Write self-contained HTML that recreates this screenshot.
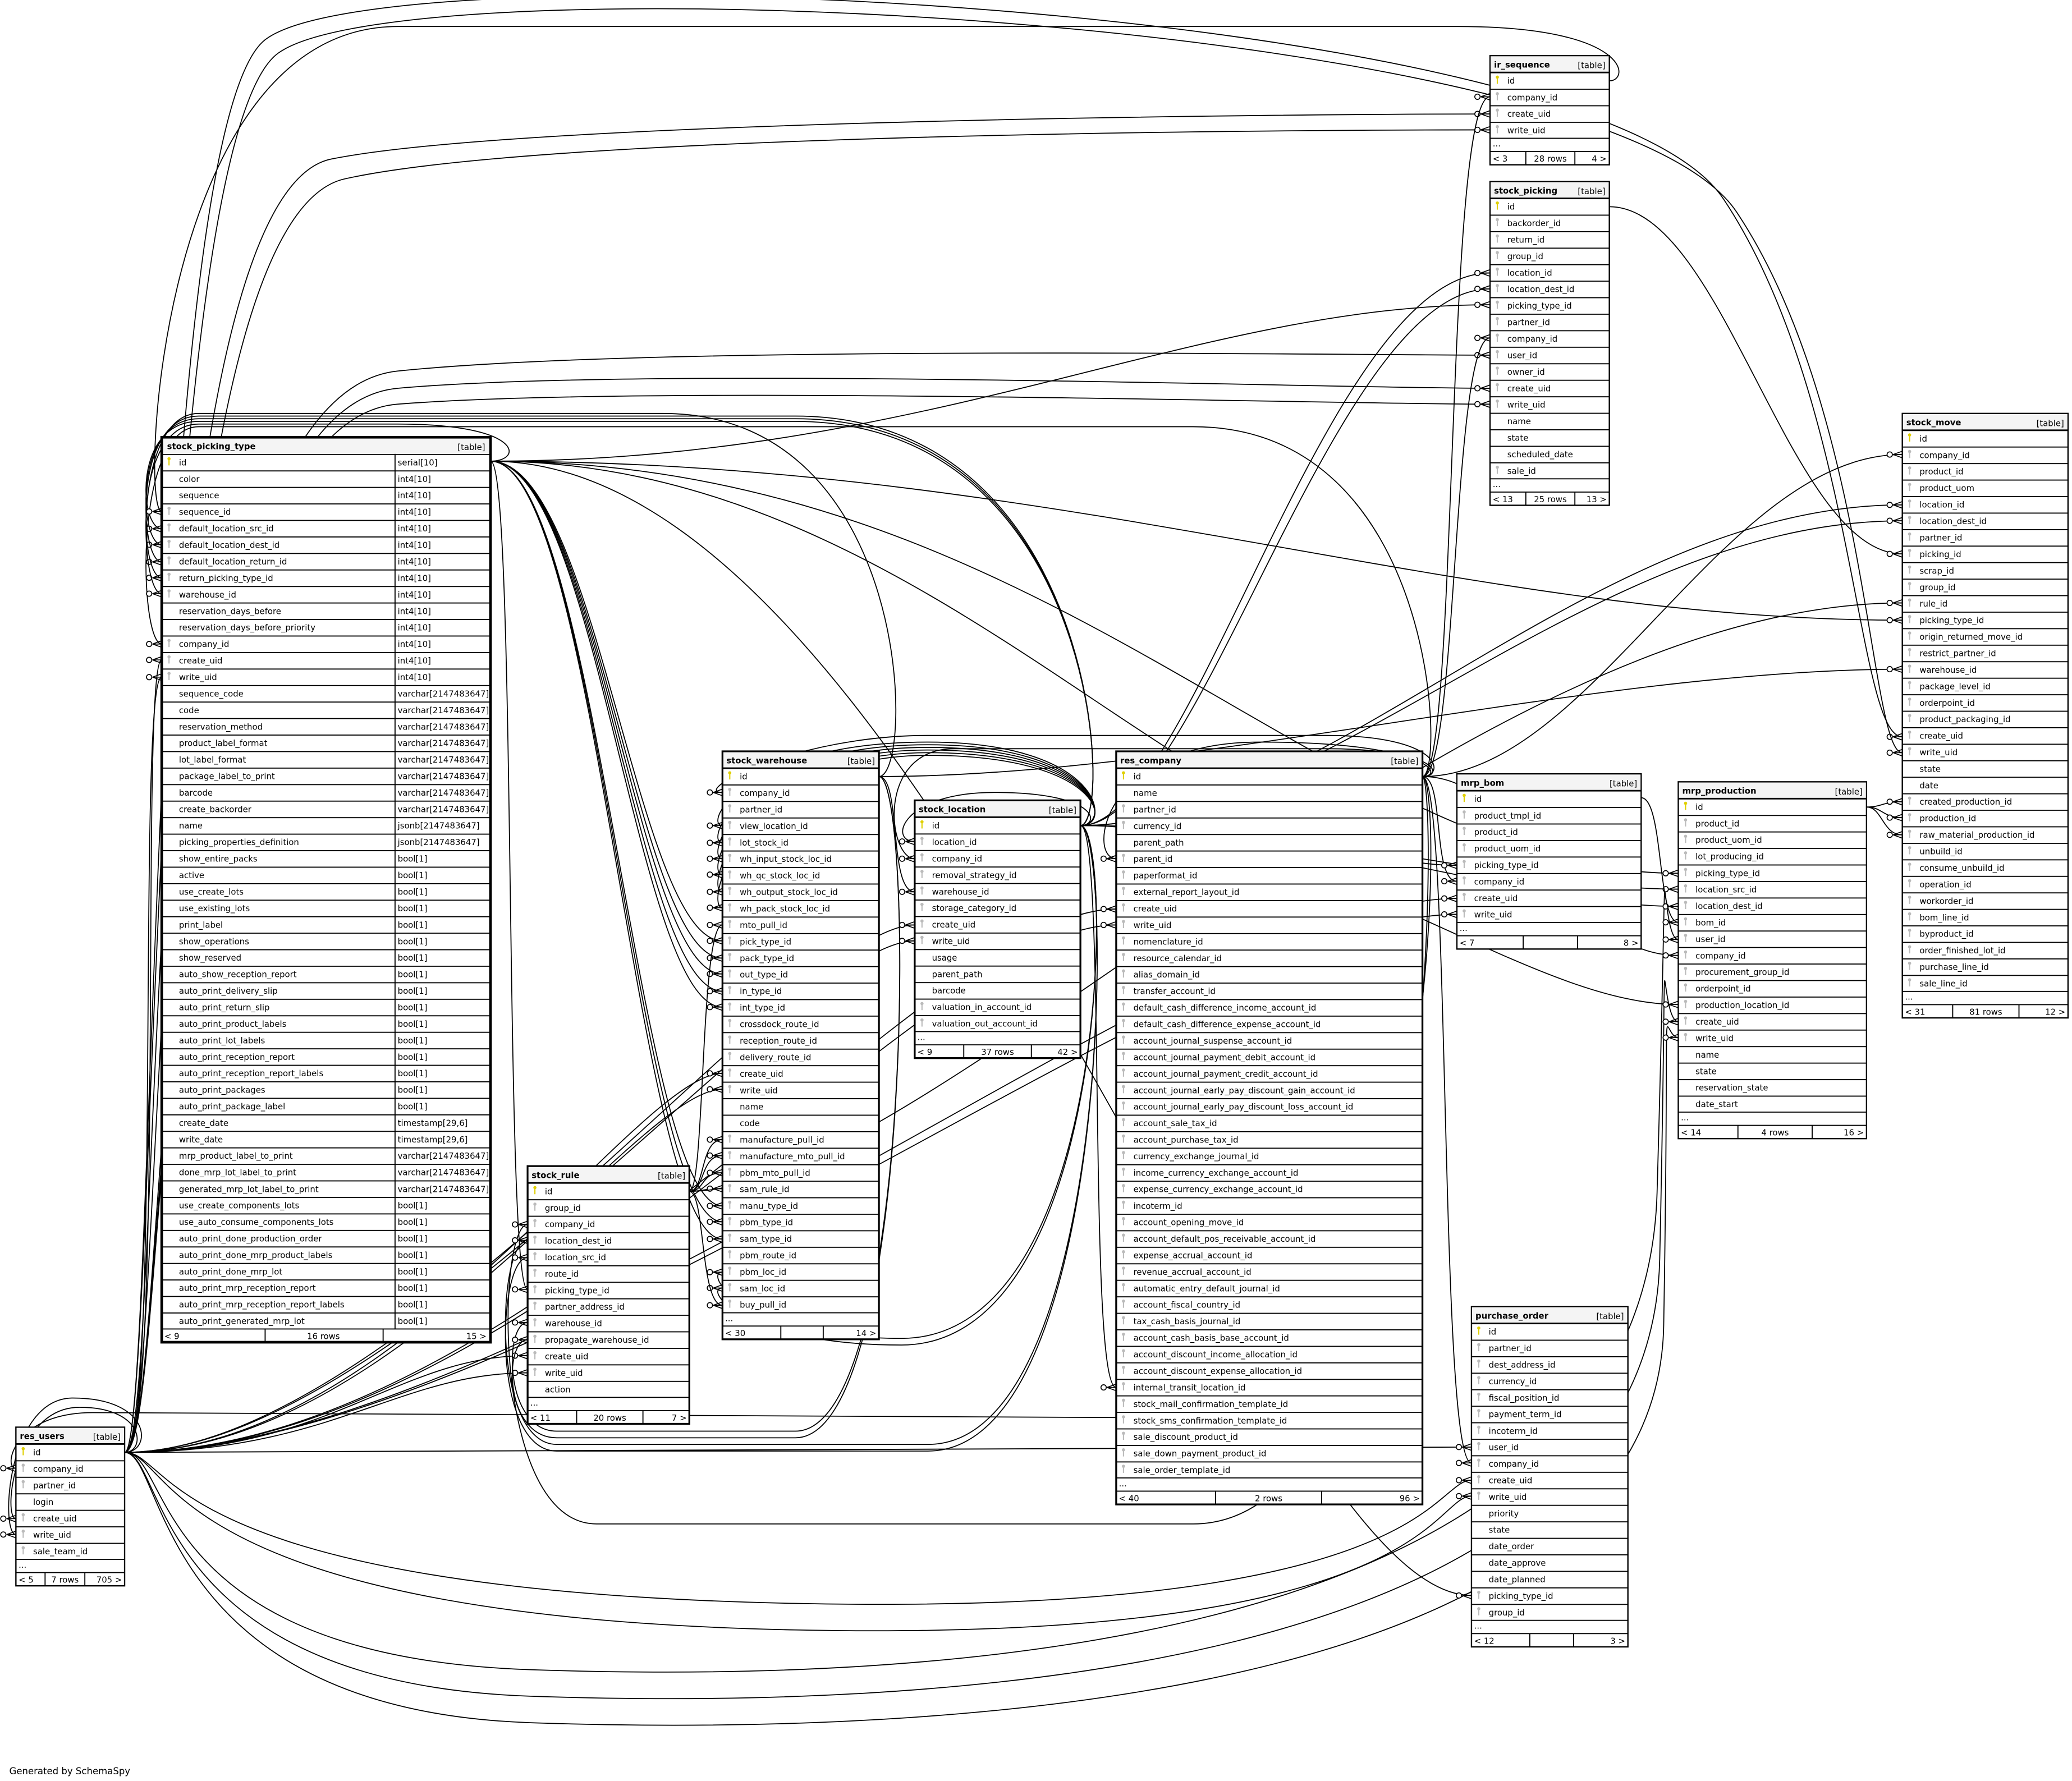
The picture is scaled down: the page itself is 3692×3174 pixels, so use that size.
<!DOCTYPE html>
<html><head><meta charset="utf-8"><style>
html,body{margin:0;padding:0;background:#fff}
svg{display:block}
text{font-family:"DejaVu Sans","Liberation Sans",sans-serif;font-size:6.3px;fill:#000}
.b{font-weight:bold}
.t{fill:#fff;stroke:#000;stroke-width:1}
.e{fill:none;stroke:#000;stroke-width:0.75}
.l{stroke:#000;stroke-width:0.8}
</style></head><body>
<svg width="3692" height="3174" viewBox="0 0 1563 1344" preserveAspectRatio="none" xmlns="http://www.w3.org/2000/svg">
<defs>
<pattern id="rl" patternUnits="userSpaceOnUse" width="2000" height="12.46" y="12.5"><line x1="0" y1="0.4" x2="2000" y2="0.4" stroke="#000" stroke-width="0.8"/></pattern>
<symbol id="y" overflow="visible"><circle cx="1.5" cy="1.5" r="1.2" fill="#e0d000"/><line x1="1.5" y1="2" x2="1.5" y2="6.5" stroke="#e0d000" stroke-width="0.9"/></symbol>
<symbol id="g" overflow="visible"><circle cx="1.5" cy="1.5" r="1.2" fill="#bbb"/><line x1="1.5" y1="2" x2="1.5" y2="6.5" stroke="#bbb" stroke-width="0.9"/></symbol>
<marker id="m" markerUnits="userSpaceOnUse" markerWidth="14" markerHeight="8" refX="12" refY="4" orient="auto" overflow="visible"><circle cx="2.5" cy="4" r="2" fill="#fff" stroke="#000" stroke-width="0.7"/><path d="M5 4 L12 1.5 M5 4 L12 4 M5 4 L12 6.5" stroke="#000" stroke-width="0.7" fill="none"/></marker>
</defs>

<!-- EDGES -->
<g class="e" marker-end="url(#m)">
<path d="M94,1096 C125,1096 105,498 122,498"/>
<path d="M94,1096 C122,1096 103,511 122,511"/>
<path d="M94,1096 C125,1096 100,150 250,120 S1000,86 1124,86"/>
<path d="M94,1096 C128,1096 104,170 260,135 S1000,98 1124,98"/>
<path d="M94,1096 C130,1096 105,300 300,280 S1000,268 1124,268"/>
<path d="M94,1096 C130,1096 108,310 300,293 S1000,293 1124,293"/>
<path d="M94,1096 C130,1096 110,320 300,305 S1000,305 1124,305"/>
<path d="M94,1096 C118,1096 110,100 200,30 S1200,0 1300,150 S1400,556 1435,556"/>
<path d="M94,1096 C118,1096 112,110 210,40 S1210,10 1310,160 S1410,568 1435,568"/>
<path d="M94,1096 C300,1096 480,810 545,810"/>
<path d="M94,1096 C300,1096 480,822 545,822"/>
<path d="M94,1096 C300,1096 600,698 690,698"/>
<path d="M94,1096 C300,1096 600,710 690,710"/>
<path d="M94,1096 C400,1096 700,686 842,686"/>
<path d="M94,1096 C400,1096 700,698 842,698"/>
<path d="M94,1096 C400,1096 900,678 1099,678"/>
<path d="M94,1096 C400,1096 900,690 1099,690"/>
<path d="M94,1096 C130,1096 110,1250 400,1260 S1240,1250 1250,900 S1250,709 1266,709"/>
<path d="M94,1096 C125,1096 112,1270 400,1280 S1245,1270 1252,950 S1250,771 1266,771"/>
<path d="M94,1096 C125,1096 115,1290 400,1300 S1250,1290 1255,1000 S1252,783 1266,783"/>
<path d="M94,1096 C250,1096 300,1023 398,1023"/>
<path d="M94,1096 C250,1096 300,1036 398,1036"/>
<path d="M94,1096 C500,1096 900,1092 1110,1092"/>
<path d="M94,1096 C130,1096 120,1200 600,1210 S1080,1117 1110,1117"/>
<path d="M94,1096 C130,1096 120,1220 600,1230 S1080,1129 1110,1129"/>
<path d="M94,1096 C110,1096 110,1062 60,1062 C10,1062 2,1146 12,1146"/>
<path d="M94,1096 C115,1096 115,1055 55,1055 C5,1055 0,1158 12,1158"/>
<path d="M1073,586 C1100,586 1090,73 1124,73"/>
<path d="M1073,586 C1100,586 1095,255 1124,255"/>
<path d="M1073,586 C1200,586 1300,343 1435,343"/>
<path d="M1073,586 C1090,586 1080,665 1099,665"/>
<path d="M1073,586 C1150,586 1180,721 1266,721"/>
<path d="M1073,586 C1095,586 1085,1104 1110,1104"/>
<path d="M1073,586 C1090,586 1090,555 1000,555 L700,555 C600,555 520,598 545,598"/>
<path d="M1073,586 C1090,586 1085,565 1000,565 L720,565 C660,565 670,648 690,648"/>
<path d="M1073,586 C1085,586 1085,1150 900,1150 L450,1150 C370,1150 375,924 398,924"/>
<path d="M1073,586 C1090,586 1085,322 900,322 L150,322 C100,322 105,486 122,486"/>
<path d="M1073,586 C1090,586 1085,1070 900,1070 L70,1066 C10,1066 2,1108 12,1108"/>
<path d="M1073,586 C1090,586 1080,560 950,560 C830,560 820,648 842,648"/>
<path d="M815,623 C900,623 1000,206 1124,206"/>
<path d="M815,623 C905,623 1005,218 1124,218"/>
<path d="M815,623 C1000,623 1200,381 1435,381"/>
<path d="M815,623 C1000,623 1200,393 1435,393"/>
<path d="M815,623 C1000,623 1150,671 1266,671"/>
<path d="M815,623 C1000,623 1150,684 1266,684"/>
<path d="M815,623 C1000,623 1150,758 1266,758"/>
<path d="M815,623 C835,623 820,1047 842,1047"/>
<path d="M815,623 C830,623 830,598 750,598 C680,598 670,635 690,635"/>
<path d="M815,623 C840,623 830,560 700,560 C560,560 530,623 545,623"/>
<path d="M815,623 C840,623 830,562 700,562 C560,562 530,636 545,636"/>
<path d="M815,623 C840,623 830,564 700,564 C560,564 530,648 545,648"/>
<path d="M815,623 C840,623 830,566 700,566 C560,566 530,660 545,660"/>
<path d="M815,623 C840,623 830,568 700,568 C560,568 530,673 545,673"/>
<path d="M815,623 C840,623 830,570 700,570 C560,570 530,685 545,685"/>
<path d="M815,623 C840,623 840,1010 680,1010 C560,1010 530,960 545,960"/>
<path d="M815,623 C840,623 840,1015 680,1015 C560,1015 530,972 545,972"/>
<path d="M815,623 C840,623 830,318 600,318 L150,318 C100,318 105,399 122,399"/>
<path d="M815,623 C840,623 830,316 600,316 L150,316 C100,316 105,411 122,411"/>
<path d="M815,623 C840,623 830,314 600,314 L150,314 C100,314 105,424 122,424"/>
<path d="M815,623 C840,623 840,1090 700,1090 L420,1090 C370,1090 375,936 398,936"/>
<path d="M815,623 C840,623 840,1095 700,1095 L420,1095 C370,1095 375,949 398,949"/>
<path d="M370,348 C700,348 900,230 1124,230"/>
<path d="M370,348 C800,348 1100,468 1435,468"/>
<path d="M370,348 C450,348 480,710 545,710"/>
<path d="M370,348 C450,348 480,723 545,723"/>
<path d="M370,348 C450,348 480,735 545,735"/>
<path d="M370,348 C450,348 480,748 545,748"/>
<path d="M370,348 C450,348 480,760 545,760"/>
<path d="M370,348 C450,348 480,910 545,910"/>
<path d="M370,348 C450,348 480,922 545,922"/>
<path d="M370,348 C450,348 480,935 545,935"/>
<path d="M370,348 C700,348 900,653 1099,653"/>
<path d="M370,348 C800,348 1000,659 1266,659"/>
<path d="M370,348 C390,348 380,973 398,973"/>
<path d="M370,348 C700,348 950,1204 1110,1204"/>
<path d="M370,348 C395,348 395,320 300,320 L150,320 C100,320 105,436 122,436"/>
<path d="M663,586 C690,586 690,312 500,312 L150,312 C100,312 105,448 122,448"/>
<path d="M663,586 C680,586 670,673 690,673"/>
<path d="M663,586 C690,586 690,1080 600,1080 L420,1080 C380,1080 380,998 398,998"/>
<path d="M663,586 C690,586 690,1085 600,1085 L420,1085 C380,1085 380,1011 398,1011"/>
<path d="M663,586 C900,586 1200,505 1435,505"/>
<path d="M520,899 C532,899 528,698 545,698"/>
<path d="M520,899 C532,899 528,860 545,860"/>
<path d="M520,899 C532,899 528,872 545,872"/>
<path d="M520,899 C532,899 528,885 545,885"/>
<path d="M520,899 C532,899 528,897 545,897"/>
<path d="M520,899 C532,899 528,985 545,985"/>
<path d="M520,899 C700,899 1100,455 1435,455"/>
<path d="M1214,61 C1230,61 1230,20 1100,20 L300,20 C120,20 105,386 122,386"/>
<path d="M1214,156 C1300,156 1350,418 1435,418"/>
<path d="M1408,609 C1420,609 1420,605 1435,605"/>
<path d="M1408,609 C1420,609 1420,617 1435,617"/>
<path d="M1408,609 C1420,609 1420,630 1435,630"/>
<path d="M1238,602 C1255,602 1250,696 1266,696"/>
</g>

<!-- stock_picking_type -->
<g transform="translate(122,330)">
<rect width="248" height="682.88" class="t" style="stroke-width:2"/>
<rect x="1" y="1" width="246" height="11.5" fill="#f4f4f4"/>
<text x="4" y="9" class="b">stock_picking_type</text><text x="244" y="9.5" text-anchor="end">[table]</text>
<rect y="12.5" width="248" height="660.38" fill="url(#rl)"/>
<line x1="0" y1="672.88" x2="248" y2="672.88" class="l"/>
<line x1="176" y1="12.5" x2="176" y2="672.88" class="l"/>
<use href="#y" x="4" y="14.7"/><use href="#g" x="4" y="52.1"/><use href="#g" x="4" y="64.6"/><use href="#g" x="4" y="77"/><use href="#g" x="4" y="89.5"/><use href="#g" x="4" y="101.9"/><use href="#g" x="4" y="114.4"/><use href="#g" x="4" y="151.8"/><use href="#g" x="4" y="164.2"/><use href="#g" x="4" y="176.7"/>
<g>
<text x="13" y="21.2">id</text><text x="13" y="33.7">color</text><text x="13" y="46.1">sequence</text><text x="13" y="58.6">sequence_id</text><text x="13" y="71.1">default_location_src_id</text><text x="13" y="83.5">default_location_dest_id</text><text x="13" y="96">default_location_return_id</text><text x="13" y="108.4">return_picking_type_id</text><text x="13" y="120.9">warehouse_id</text><text x="13" y="133.4">reservation_days_before</text><text x="13" y="145.8">reservation_days_before_priority</text><text x="13" y="158.3">company_id</text><text x="13" y="170.7">create_uid</text><text x="13" y="183.2">write_uid</text><text x="13" y="195.7">sequence_code</text><text x="13" y="208.1">code</text><text x="13" y="220.6">reservation_method</text><text x="13" y="233">product_label_format</text><text x="13" y="245.5">lot_label_format</text><text x="13" y="258">package_label_to_print</text><text x="13" y="270.4">barcode</text><text x="13" y="282.9">create_backorder</text><text x="13" y="295.3">name</text><text x="13" y="307.8">picking_properties_definition</text><text x="13" y="320.3">show_entire_packs</text><text x="13" y="332.7">active</text><text x="13" y="345.2">use_create_lots</text><text x="13" y="357.6">use_existing_lots</text><text x="13" y="370.1">print_label</text><text x="13" y="382.6">show_operations</text><text x="13" y="395">show_reserved</text><text x="13" y="407.5">auto_show_reception_report</text><text x="13" y="419.9">auto_print_delivery_slip</text><text x="13" y="432.4">auto_print_return_slip</text><text x="13" y="444.9">auto_print_product_labels</text><text x="13" y="457.3">auto_print_lot_labels</text><text x="13" y="469.8">auto_print_reception_report</text><text x="13" y="482.2">auto_print_reception_report_labels</text><text x="13" y="494.7">auto_print_packages</text><text x="13" y="507.2">auto_print_package_label</text><text x="13" y="519.6">create_date</text><text x="13" y="532.1">write_date</text><text x="13" y="544.5">mrp_product_label_to_print</text><text x="13" y="557">done_mrp_lot_label_to_print</text><text x="13" y="569.5">generated_mrp_lot_label_to_print</text><text x="13" y="581.9">use_create_components_lots</text><text x="13" y="594.4">use_auto_consume_components_lots</text><text x="13" y="606.8">auto_print_done_production_order</text><text x="13" y="619.3">auto_print_done_mrp_product_labels</text><text x="13" y="631.8">auto_print_done_mrp_lot</text><text x="13" y="644.2">auto_print_mrp_reception_report</text><text x="13" y="656.7">auto_print_mrp_reception_report_labels</text><text x="13" y="669.1">auto_print_generated_mrp_lot</text>
</g>
<g>
<text x="178" y="21.2">serial[10]</text><text x="178" y="33.7">int4[10]</text><text x="178" y="46.1">int4[10]</text><text x="178" y="58.6">int4[10]</text><text x="178" y="71.1">int4[10]</text><text x="178" y="83.5">int4[10]</text><text x="178" y="96">int4[10]</text><text x="178" y="108.4">int4[10]</text><text x="178" y="120.9">int4[10]</text><text x="178" y="133.4">int4[10]</text><text x="178" y="145.8">int4[10]</text><text x="178" y="158.3">int4[10]</text><text x="178" y="170.7">int4[10]</text><text x="178" y="183.2">int4[10]</text><text x="178" y="195.7">varchar[2147483647]</text><text x="178" y="208.1">varchar[2147483647]</text><text x="178" y="220.6">varchar[2147483647]</text><text x="178" y="233">varchar[2147483647]</text><text x="178" y="245.5">varchar[2147483647]</text><text x="178" y="258">varchar[2147483647]</text><text x="178" y="270.4">varchar[2147483647]</text><text x="178" y="282.9">varchar[2147483647]</text><text x="178" y="295.3">jsonb[2147483647]</text><text x="178" y="307.8">jsonb[2147483647]</text><text x="178" y="320.3">bool[1]</text><text x="178" y="332.7">bool[1]</text><text x="178" y="345.2">bool[1]</text><text x="178" y="357.6">bool[1]</text><text x="178" y="370.1">bool[1]</text><text x="178" y="382.6">bool[1]</text><text x="178" y="395">bool[1]</text><text x="178" y="407.5">bool[1]</text><text x="178" y="419.9">bool[1]</text><text x="178" y="432.4">bool[1]</text><text x="178" y="444.9">bool[1]</text><text x="178" y="457.3">bool[1]</text><text x="178" y="469.8">bool[1]</text><text x="178" y="482.2">bool[1]</text><text x="178" y="494.7">bool[1]</text><text x="178" y="507.2">bool[1]</text><text x="178" y="519.6">timestamp[29,6]</text><text x="178" y="532.1">timestamp[29,6]</text><text x="178" y="544.5">varchar[2147483647]</text><text x="178" y="557">varchar[2147483647]</text><text x="178" y="569.5">varchar[2147483647]</text><text x="178" y="581.9">bool[1]</text><text x="178" y="594.4">bool[1]</text><text x="178" y="606.8">bool[1]</text><text x="178" y="619.3">bool[1]</text><text x="178" y="631.8">bool[1]</text><text x="178" y="644.2">bool[1]</text><text x="178" y="656.7">bool[1]</text><text x="178" y="669.1">bool[1]</text>
</g>
<line x1="78" y1="672.88" x2="78" y2="682.88" class="l"/><line x1="167" y1="672.88" x2="167" y2="682.88" class="l"/>
<text x="2" y="680.5">&lt; 9</text><text x="122" y="680.5" text-anchor="middle">16 rows</text><text x="245" y="680.5" text-anchor="end">15 &gt;</text>
</g>

<!-- res_users -->
<g transform="translate(12,1077)">
<rect width="82" height="119.72" class="t"/>
<rect x=".5" y=".5" width="81" height="12" fill="#f4f4f4"/><line x1="0" y1="12.5" x2="82" y2="12.5" class="l"/>
<text x="3" y="9" class="b">res_users</text><text x="79" y="9.5" text-anchor="end">[table]</text>
<rect y="12.5" width="82" height="87.22" fill="url(#rl)"/>
<use href="#y" x="4" y="14.7"/><use href="#g" x="4" y="27.2"/><use href="#g" x="4" y="39.6"/><use href="#g" x="4" y="64.6"/><use href="#g" x="4" y="77"/><use href="#g" x="4" y="89.5"/>
<text x="13" y="21.2">id</text><text x="13" y="33.7">company_id</text><text x="13" y="46.1">partner_id</text><text x="13" y="58.6">login</text><text x="13" y="71.1">create_uid</text><text x="13" y="83.5">write_uid</text><text x="13" y="96">sale_team_id</text>
<line x1="0" y1="99.72" x2="82" y2="99.72" class="l"/><text x="2" y="106">...</text>
<line x1="0" y1="109.72" x2="82" y2="109.72" class="l"/><line x1="22" y1="109.72" x2="22" y2="119.72" class="l"/><line x1="52" y1="109.72" x2="52" y2="119.72" class="l"/>
<text x="2" y="117.3">&lt; 5</text><text x="37" y="117.3" text-anchor="middle">7 rows</text><text x="80" y="117.3" text-anchor="end">705 &gt;</text>
</g>

<!-- ir_sequence -->
<g transform="translate(1124,42)">
<rect width="90" height="82.34" class="t"/>
<rect x=".5" y=".5" width="89" height="12" fill="#f4f4f4"/><line x1="0" y1="12.5" x2="90" y2="12.5" class="l"/>
<text x="3" y="9" class="b">ir_sequence</text><text x="87" y="9.5" text-anchor="end">[table]</text>
<rect y="12.5" width="90" height="49.84" fill="url(#rl)"/>
<use href="#y" x="4" y="14.7"/><use href="#g" x="4" y="27.2"/><use href="#g" x="4" y="39.6"/><use href="#g" x="4" y="52.1"/>
<text x="13" y="21.2">id</text><text x="13" y="33.7">company_id</text><text x="13" y="46.1">create_uid</text><text x="13" y="58.6">write_uid</text>
<line x1="0" y1="62.34" x2="90" y2="62.34" class="l"/><text x="2" y="68.6">...</text>
<line x1="0" y1="72.34" x2="90" y2="72.34" class="l"/><line x1="27" y1="72.34" x2="27" y2="82.34" class="l"/><line x1="64" y1="72.34" x2="64" y2="82.34" class="l"/>
<text x="2" y="80">&lt; 3</text><text x="45.5" y="80" text-anchor="middle">28 rows</text><text x="88" y="80" text-anchor="end">4 &gt;</text>
</g>

<!-- stock_picking -->
<g transform="translate(1124,137)">
<rect width="90" height="244.32" class="t"/>
<rect x=".5" y=".5" width="89" height="12" fill="#f4f4f4"/><line x1="0" y1="12.5" x2="90" y2="12.5" class="l"/>
<text x="3" y="9" class="b">stock_picking</text><text x="87" y="9.5" text-anchor="end">[table]</text>
<rect y="12.5" width="90" height="211.82" fill="url(#rl)"/>
<use href="#y" x="4" y="14.7"/><use href="#g" x="4" y="27.2"/><use href="#g" x="4" y="39.6"/><use href="#g" x="4" y="52.1"/><use href="#g" x="4" y="64.6"/><use href="#g" x="4" y="77"/><use href="#g" x="4" y="89.5"/><use href="#g" x="4" y="101.9"/><use href="#g" x="4" y="114.4"/><use href="#g" x="4" y="126.9"/><use href="#g" x="4" y="139.3"/><use href="#g" x="4" y="151.8"/><use href="#g" x="4" y="164.2"/><use href="#g" x="4" y="214.1"/>
<text x="13" y="21.2">id</text><text x="13" y="33.7">backorder_id</text><text x="13" y="46.1">return_id</text><text x="13" y="58.6">group_id</text><text x="13" y="71.1">location_id</text><text x="13" y="83.5">location_dest_id</text><text x="13" y="96">picking_type_id</text><text x="13" y="108.4">partner_id</text><text x="13" y="120.9">company_id</text><text x="13" y="133.4">user_id</text><text x="13" y="145.8">owner_id</text><text x="13" y="158.3">create_uid</text><text x="13" y="170.7">write_uid</text><text x="13" y="183.2">name</text><text x="13" y="195.7">state</text><text x="13" y="208.1">scheduled_date</text><text x="13" y="220.6">sale_id</text>
<line x1="0" y1="224.32" x2="90" y2="224.32" class="l"/><text x="2" y="230.6">...</text>
<line x1="0" y1="234.32" x2="90" y2="234.32" class="l"/><line x1="27" y1="234.32" x2="27" y2="244.32" class="l"/><line x1="64" y1="234.32" x2="64" y2="244.32" class="l"/>
<text x="2" y="242">&lt; 13</text><text x="45.5" y="242" text-anchor="middle">25 rows</text><text x="88" y="242" text-anchor="end">13 &gt;</text>
</g>

<!-- stock_move -->
<g transform="translate(1435,312)">
<rect width="125" height="456.14" class="t"/>
<rect x=".5" y=".5" width="124" height="12" fill="#f4f4f4"/><line x1="0" y1="12.5" x2="125" y2="12.5" class="l"/>
<text x="3" y="9" class="b">stock_move</text><text x="122" y="9.5" text-anchor="end">[table]</text>
<rect y="12.5" width="125" height="423.64" fill="url(#rl)"/>
<use href="#y" x="4" y="14.7"/><use href="#g" x="4" y="27.2"/><use href="#g" x="4" y="39.6"/><use href="#g" x="4" y="52.1"/><use href="#g" x="4" y="64.6"/><use href="#g" x="4" y="77"/><use href="#g" x="4" y="89.5"/><use href="#g" x="4" y="101.9"/><use href="#g" x="4" y="114.4"/><use href="#g" x="4" y="126.9"/><use href="#g" x="4" y="139.3"/><use href="#g" x="4" y="151.8"/><use href="#g" x="4" y="164.2"/><use href="#g" x="4" y="176.7"/><use href="#g" x="4" y="189.2"/><use href="#g" x="4" y="201.6"/><use href="#g" x="4" y="214.1"/><use href="#g" x="4" y="226.5"/><use href="#g" x="4" y="239"/><use href="#g" x="4" y="251.5"/><use href="#g" x="4" y="288.8"/><use href="#g" x="4" y="301.3"/><use href="#g" x="4" y="313.8"/><use href="#g" x="4" y="326.2"/><use href="#g" x="4" y="338.7"/><use href="#g" x="4" y="351.1"/><use href="#g" x="4" y="363.6"/><use href="#g" x="4" y="376.1"/><use href="#g" x="4" y="388.5"/><use href="#g" x="4" y="401"/><use href="#g" x="4" y="413.4"/><use href="#g" x="4" y="425.9"/>
<text x="13" y="21.2">id</text><text x="13" y="33.7">company_id</text><text x="13" y="46.1">product_id</text><text x="13" y="58.6">product_uom</text><text x="13" y="71.1">location_id</text><text x="13" y="83.5">location_dest_id</text><text x="13" y="96">partner_id</text><text x="13" y="108.4">picking_id</text><text x="13" y="120.9">scrap_id</text><text x="13" y="133.4">group_id</text><text x="13" y="145.8">rule_id</text><text x="13" y="158.3">picking_type_id</text><text x="13" y="170.7">origin_returned_move_id</text><text x="13" y="183.2">restrict_partner_id</text><text x="13" y="195.7">warehouse_id</text><text x="13" y="208.1">package_level_id</text><text x="13" y="220.6">orderpoint_id</text><text x="13" y="233">product_packaging_id</text><text x="13" y="245.5">create_uid</text><text x="13" y="258">write_uid</text><text x="13" y="270.4">state</text><text x="13" y="282.9">date</text><text x="13" y="295.3">created_production_id</text><text x="13" y="307.8">production_id</text><text x="13" y="320.3">raw_material_production_id</text><text x="13" y="332.7">unbuild_id</text><text x="13" y="345.2">consume_unbuild_id</text><text x="13" y="357.6">operation_id</text><text x="13" y="370.1">workorder_id</text><text x="13" y="382.6">bom_line_id</text><text x="13" y="395">byproduct_id</text><text x="13" y="407.5">order_finished_lot_id</text><text x="13" y="419.9">purchase_line_id</text><text x="13" y="432.4">sale_line_id</text>
<line x1="0" y1="436.14" x2="125" y2="436.14" class="l"/><text x="2" y="442.4">...</text>
<line x1="0" y1="446.14" x2="125" y2="446.14" class="l"/><line x1="38" y1="446.14" x2="38" y2="456.14" class="l"/><line x1="88" y1="446.14" x2="88" y2="456.14" class="l"/>
<text x="2" y="453.8">&lt; 31</text><text x="63" y="453.8" text-anchor="middle">81 rows</text><text x="123" y="453.8" text-anchor="end">12 &gt;</text>
</g>

<!-- stock_warehouse -->
<g transform="translate(545,567)">
<rect width="118" height="443.68" class="t" style="stroke-width:1.4"/>
<rect x=".7" y=".7" width="116.6" height="11.8" fill="#f4f4f4"/><line x1="0" y1="12.5" x2="118" y2="12.5" class="l"/>
<text x="3" y="9" class="b">stock_warehouse</text><text x="115" y="9.5" text-anchor="end">[table]</text>
<rect y="12.5" width="118" height="411.18" fill="url(#rl)"/>
<use href="#y" x="4" y="14.7"/><use href="#g" x="4" y="27.2"/><use href="#g" x="4" y="39.6"/><use href="#g" x="4" y="52.1"/><use href="#g" x="4" y="64.6"/><use href="#g" x="4" y="77"/><use href="#g" x="4" y="89.5"/><use href="#g" x="4" y="101.9"/><use href="#g" x="4" y="114.4"/><use href="#g" x="4" y="126.9"/><use href="#g" x="4" y="139.3"/><use href="#g" x="4" y="151.8"/><use href="#g" x="4" y="164.2"/><use href="#g" x="4" y="176.7"/><use href="#g" x="4" y="189.2"/><use href="#g" x="4" y="201.6"/><use href="#g" x="4" y="214.1"/><use href="#g" x="4" y="226.5"/><use href="#g" x="4" y="239"/><use href="#g" x="4" y="251.5"/><use href="#g" x="4" y="288.8"/><use href="#g" x="4" y="301.3"/><use href="#g" x="4" y="313.8"/><use href="#g" x="4" y="326.2"/><use href="#g" x="4" y="338.7"/><use href="#g" x="4" y="351.1"/><use href="#g" x="4" y="363.6"/><use href="#g" x="4" y="376.1"/><use href="#g" x="4" y="388.5"/><use href="#g" x="4" y="401"/><use href="#g" x="4" y="413.4"/>
<text x="13" y="21.2">id</text><text x="13" y="33.7">company_id</text><text x="13" y="46.1">partner_id</text><text x="13" y="58.6">view_location_id</text><text x="13" y="71.1">lot_stock_id</text><text x="13" y="83.5">wh_input_stock_loc_id</text><text x="13" y="96">wh_qc_stock_loc_id</text><text x="13" y="108.4">wh_output_stock_loc_id</text><text x="13" y="120.9">wh_pack_stock_loc_id</text><text x="13" y="133.4">mto_pull_id</text><text x="13" y="145.8">pick_type_id</text><text x="13" y="158.3">pack_type_id</text><text x="13" y="170.7">out_type_id</text><text x="13" y="183.2">in_type_id</text><text x="13" y="195.7">int_type_id</text><text x="13" y="208.1">crossdock_route_id</text><text x="13" y="220.6">reception_route_id</text><text x="13" y="233">delivery_route_id</text><text x="13" y="245.5">create_uid</text><text x="13" y="258">write_uid</text><text x="13" y="270.4">name</text><text x="13" y="282.9">code</text><text x="13" y="295.3">manufacture_pull_id</text><text x="13" y="307.8">manufacture_mto_pull_id</text><text x="13" y="320.3">pbm_mto_pull_id</text><text x="13" y="332.7">sam_rule_id</text><text x="13" y="345.2">manu_type_id</text><text x="13" y="357.6">pbm_type_id</text><text x="13" y="370.1">sam_type_id</text><text x="13" y="382.6">pbm_route_id</text><text x="13" y="395">pbm_loc_id</text><text x="13" y="407.5">sam_loc_id</text><text x="13" y="419.9">buy_pull_id</text>
<line x1="0" y1="423.68" x2="118" y2="423.68" class="l"/><text x="2" y="430">...</text>
<line x1="0" y1="433.68" x2="118" y2="433.68" class="l"/><line x1="44" y1="433.68" x2="44" y2="443.68" class="l"/><line x1="76" y1="433.68" x2="76" y2="443.68" class="l"/>
<text x="2" y="441.3">&lt; 30</text><text x="116" y="441.3" text-anchor="end">14 &gt;</text>
</g>

<!-- stock_location -->
<g transform="translate(690,604)">
<rect width="125" height="194.48" class="t" style="stroke-width:1.4"/>
<rect x=".7" y=".7" width="123.6" height="11.8" fill="#f4f4f4"/><line x1="0" y1="12.5" x2="125" y2="12.5" class="l"/>
<text x="3" y="9" class="b">stock_location</text><text x="122" y="9.5" text-anchor="end">[table]</text>
<rect y="12.5" width="125" height="161.98" fill="url(#rl)"/>
<use href="#y" x="4" y="14.7"/><use href="#g" x="4" y="27.2"/><use href="#g" x="4" y="39.6"/><use href="#g" x="4" y="52.1"/><use href="#g" x="4" y="64.6"/><use href="#g" x="4" y="77"/><use href="#g" x="4" y="89.5"/><use href="#g" x="4" y="101.9"/><use href="#g" x="4" y="151.8"/><use href="#g" x="4" y="164.2"/>
<text x="13" y="21.2">id</text><text x="13" y="33.7">location_id</text><text x="13" y="46.1">company_id</text><text x="13" y="58.6">removal_strategy_id</text><text x="13" y="71.1">warehouse_id</text><text x="13" y="83.5">storage_category_id</text><text x="13" y="96">create_uid</text><text x="13" y="108.4">write_uid</text><text x="13" y="120.9">usage</text><text x="13" y="133.4">parent_path</text><text x="13" y="145.8">barcode</text><text x="13" y="158.3">valuation_in_account_id</text><text x="13" y="170.7">valuation_out_account_id</text>
<line x1="0" y1="174.48" x2="125" y2="174.48" class="l"/><text x="2" y="180.8">...</text>
<line x1="0" y1="184.48" x2="125" y2="184.48" class="l"/><line x1="37" y1="184.48" x2="37" y2="194.48" class="l"/><line x1="88" y1="184.48" x2="88" y2="194.48" class="l"/>
<text x="2" y="192.1">&lt; 9</text><text x="62.5" y="192.1" text-anchor="middle">37 rows</text><text x="123" y="192.1" text-anchor="end">42 &gt;</text>
</g>

<!-- res_company -->
<g transform="translate(842,567)">
<rect width="231" height="568.28" class="t" style="stroke-width:1.4"/>
<rect x=".7" y=".7" width="229.6" height="11.8" fill="#f4f4f4"/><line x1="0" y1="12.5" x2="231" y2="12.5" class="l"/>
<text x="3" y="9" class="b">res_company</text><text x="228" y="9.5" text-anchor="end">[table]</text>
<rect y="12.5" width="231" height="535.78" fill="url(#rl)"/>
<use href="#y" x="4" y="14.7"/><use href="#g" x="4" y="39.6"/><use href="#g" x="4" y="52.1"/><use href="#g" x="4" y="77"/><use href="#g" x="4" y="89.5"/><use href="#g" x="4" y="101.9"/><use href="#g" x="4" y="114.4"/><use href="#g" x="4" y="126.9"/><use href="#g" x="4" y="139.3"/><use href="#g" x="4" y="151.8"/><use href="#g" x="4" y="164.2"/><use href="#g" x="4" y="176.7"/><use href="#g" x="4" y="189.2"/><use href="#g" x="4" y="201.6"/><use href="#g" x="4" y="214.1"/><use href="#g" x="4" y="226.5"/><use href="#g" x="4" y="239"/><use href="#g" x="4" y="251.5"/><use href="#g" x="4" y="263.9"/><use href="#g" x="4" y="276.4"/><use href="#g" x="4" y="288.8"/><use href="#g" x="4" y="301.3"/><use href="#g" x="4" y="313.8"/><use href="#g" x="4" y="326.2"/><use href="#g" x="4" y="338.7"/><use href="#g" x="4" y="351.1"/><use href="#g" x="4" y="363.6"/><use href="#g" x="4" y="376.1"/><use href="#g" x="4" y="388.5"/><use href="#g" x="4" y="401"/><use href="#g" x="4" y="413.4"/><use href="#g" x="4" y="425.9"/><use href="#g" x="4" y="438.4"/><use href="#g" x="4" y="450.8"/><use href="#g" x="4" y="463.3"/><use href="#g" x="4" y="475.7"/><use href="#g" x="4" y="488.2"/><use href="#g" x="4" y="500.7"/><use href="#g" x="4" y="513.1"/><use href="#g" x="4" y="525.6"/><use href="#g" x="4" y="538"/>
<text x="13" y="21.2">id</text><text x="13" y="33.7">name</text><text x="13" y="46.1">partner_id</text><text x="13" y="58.6">currency_id</text><text x="13" y="71.1">parent_path</text><text x="13" y="83.5">parent_id</text><text x="13" y="96">paperformat_id</text><text x="13" y="108.4">external_report_layout_id</text><text x="13" y="120.9">create_uid</text><text x="13" y="133.4">write_uid</text><text x="13" y="145.8">nomenclature_id</text><text x="13" y="158.3">resource_calendar_id</text><text x="13" y="170.7">alias_domain_id</text><text x="13" y="183.2">transfer_account_id</text><text x="13" y="195.7">default_cash_difference_income_account_id</text><text x="13" y="208.1">default_cash_difference_expense_account_id</text><text x="13" y="220.6">account_journal_suspense_account_id</text><text x="13" y="233">account_journal_payment_debit_account_id</text><text x="13" y="245.5">account_journal_payment_credit_account_id</text><text x="13" y="258">account_journal_early_pay_discount_gain_account_id</text><text x="13" y="270.4">account_journal_early_pay_discount_loss_account_id</text><text x="13" y="282.9">account_sale_tax_id</text><text x="13" y="295.3">account_purchase_tax_id</text><text x="13" y="307.8">currency_exchange_journal_id</text><text x="13" y="320.3">income_currency_exchange_account_id</text><text x="13" y="332.7">expense_currency_exchange_account_id</text><text x="13" y="345.2">incoterm_id</text><text x="13" y="357.6">account_opening_move_id</text><text x="13" y="370.1">account_default_pos_receivable_account_id</text><text x="13" y="382.6">expense_accrual_account_id</text><text x="13" y="395">revenue_accrual_account_id</text><text x="13" y="407.5">automatic_entry_default_journal_id</text><text x="13" y="419.9">account_fiscal_country_id</text><text x="13" y="432.4">tax_cash_basis_journal_id</text><text x="13" y="444.9">account_cash_basis_base_account_id</text><text x="13" y="457.3">account_discount_income_allocation_id</text><text x="13" y="469.8">account_discount_expense_allocation_id</text><text x="13" y="482.2">internal_transit_location_id</text><text x="13" y="494.7">stock_mail_confirmation_template_id</text><text x="13" y="507.2">stock_sms_confirmation_template_id</text><text x="13" y="519.6">sale_discount_product_id</text><text x="13" y="532.1">sale_down_payment_product_id</text><text x="13" y="544.5">sale_order_template_id</text>
<line x1="0" y1="548.28" x2="231" y2="548.28" class="l"/><text x="2" y="554.6">...</text>
<line x1="0" y1="558.28" x2="231" y2="558.28" class="l"/><line x1="75" y1="558.28" x2="75" y2="568.28" class="l"/><line x1="155" y1="558.28" x2="155" y2="568.28" class="l"/>
<text x="2" y="565.9">&lt; 40</text><text x="115" y="565.9" text-anchor="middle">2 rows</text><text x="229" y="565.9" text-anchor="end">96 &gt;</text>
</g>

<!-- mrp_bom -->
<g transform="translate(1099,584)">
<rect width="139" height="132.18" class="t"/>
<rect x=".5" y=".5" width="138" height="12" fill="#f4f4f4"/><line x1="0" y1="12.5" x2="139" y2="12.5" class="l"/>
<text x="3" y="9" class="b">mrp_bom</text><text x="136" y="9.5" text-anchor="end">[table]</text>
<rect y="12.5" width="139" height="99.68" fill="url(#rl)"/>
<use href="#y" x="4" y="14.7"/><use href="#g" x="4" y="27.2"/><use href="#g" x="4" y="39.6"/><use href="#g" x="4" y="52.1"/><use href="#g" x="4" y="64.6"/><use href="#g" x="4" y="77"/><use href="#g" x="4" y="89.5"/><use href="#g" x="4" y="101.9"/>
<text x="13" y="21.2">id</text><text x="13" y="33.7">product_tmpl_id</text><text x="13" y="46.1">product_id</text><text x="13" y="58.6">product_uom_id</text><text x="13" y="71.1">picking_type_id</text><text x="13" y="83.5">company_id</text><text x="13" y="96">create_uid</text><text x="13" y="108.4">write_uid</text>
<line x1="0" y1="112.18" x2="139" y2="112.18" class="l"/><text x="2" y="118.5">...</text>
<line x1="0" y1="122.18" x2="139" y2="122.18" class="l"/><line x1="50" y1="122.18" x2="50" y2="132.18" class="l"/><line x1="91" y1="122.18" x2="91" y2="132.18" class="l"/>
<text x="2" y="129.8">&lt; 7</text><text x="137" y="129.8" text-anchor="end">8 &gt;</text>
</g>

<!-- mrp_production -->
<g transform="translate(1266,590)">
<rect width="142" height="269.24" class="t"/>
<rect x=".5" y=".5" width="141" height="12" fill="#f4f4f4"/><line x1="0" y1="12.5" x2="142" y2="12.5" class="l"/>
<text x="3" y="9" class="b">mrp_production</text><text x="139" y="9.5" text-anchor="end">[table]</text>
<rect y="12.5" width="142" height="236.74" fill="url(#rl)"/>
<use href="#y" x="4" y="14.7"/><use href="#g" x="4" y="27.2"/><use href="#g" x="4" y="39.6"/><use href="#g" x="4" y="52.1"/><use href="#g" x="4" y="64.6"/><use href="#g" x="4" y="77"/><use href="#g" x="4" y="89.5"/><use href="#g" x="4" y="101.9"/><use href="#g" x="4" y="114.4"/><use href="#g" x="4" y="126.9"/><use href="#g" x="4" y="139.3"/><use href="#g" x="4" y="151.8"/><use href="#g" x="4" y="164.2"/><use href="#g" x="4" y="176.7"/><use href="#g" x="4" y="189.2"/>
<text x="13" y="21.2">id</text><text x="13" y="33.7">product_id</text><text x="13" y="46.1">product_uom_id</text><text x="13" y="58.6">lot_producing_id</text><text x="13" y="71.1">picking_type_id</text><text x="13" y="83.5">location_src_id</text><text x="13" y="96">location_dest_id</text><text x="13" y="108.4">bom_id</text><text x="13" y="120.9">user_id</text><text x="13" y="133.4">company_id</text><text x="13" y="145.8">procurement_group_id</text><text x="13" y="158.3">orderpoint_id</text><text x="13" y="170.7">production_location_id</text><text x="13" y="183.2">create_uid</text><text x="13" y="195.7">write_uid</text><text x="13" y="208.1">name</text><text x="13" y="220.6">state</text><text x="13" y="233">reservation_state</text><text x="13" y="245.5">date_start</text>
<line x1="0" y1="249.24" x2="142" y2="249.24" class="l"/><text x="2" y="255.5">...</text>
<line x1="0" y1="259.24" x2="142" y2="259.24" class="l"/><line x1="45" y1="259.24" x2="45" y2="269.24" class="l"/><line x1="101" y1="259.24" x2="101" y2="269.24" class="l"/>
<text x="2" y="266.9">&lt; 14</text><text x="73" y="266.9" text-anchor="middle">4 rows</text><text x="140" y="266.9" text-anchor="end">16 &gt;</text>
</g>

<!-- stock_rule -->
<g transform="translate(398,880)">
<rect width="122" height="194.48" class="t" style="stroke-width:1.4"/>
<rect x=".7" y=".7" width="120.6" height="11.8" fill="#f4f4f4"/><line x1="0" y1="12.5" x2="122" y2="12.5" class="l"/>
<text x="3" y="9" class="b">stock_rule</text><text x="119" y="9.5" text-anchor="end">[table]</text>
<rect y="12.5" width="122" height="161.98" fill="url(#rl)"/>
<use href="#y" x="4" y="14.7"/><use href="#g" x="4" y="27.2"/><use href="#g" x="4" y="39.6"/><use href="#g" x="4" y="52.1"/><use href="#g" x="4" y="64.6"/><use href="#g" x="4" y="77"/><use href="#g" x="4" y="89.5"/><use href="#g" x="4" y="101.9"/><use href="#g" x="4" y="114.4"/><use href="#g" x="4" y="126.9"/><use href="#g" x="4" y="139.3"/><use href="#g" x="4" y="151.8"/>
<text x="13" y="21.2">id</text><text x="13" y="33.7">group_id</text><text x="13" y="46.1">company_id</text><text x="13" y="58.6">location_dest_id</text><text x="13" y="71.1">location_src_id</text><text x="13" y="83.5">route_id</text><text x="13" y="96">picking_type_id</text><text x="13" y="108.4">partner_address_id</text><text x="13" y="120.9">warehouse_id</text><text x="13" y="133.4">propagate_warehouse_id</text><text x="13" y="145.8">create_uid</text><text x="13" y="158.3">write_uid</text><text x="13" y="170.7">action</text>
<line x1="0" y1="174.48" x2="122" y2="174.48" class="l"/><text x="2" y="180.8">...</text>
<line x1="0" y1="184.48" x2="122" y2="184.48" class="l"/><line x1="37" y1="184.48" x2="37" y2="194.48" class="l"/><line x1="87" y1="184.48" x2="87" y2="194.48" class="l"/>
<text x="2" y="192.1">&lt; 11</text><text x="62" y="192.1" text-anchor="middle">20 rows</text><text x="120" y="192.1" text-anchor="end">7 &gt;</text>
</g>

<!-- purchase_order -->
<g transform="translate(1110,986)">
<rect width="118" height="256.78" class="t"/>
<rect x=".5" y=".5" width="117" height="12" fill="#f4f4f4"/><line x1="0" y1="12.5" x2="118" y2="12.5" class="l"/>
<text x="3" y="9" class="b">purchase_order</text><text x="115" y="9.5" text-anchor="end">[table]</text>
<rect y="12.5" width="118" height="224.28" fill="url(#rl)"/>
<use href="#y" x="4" y="14.7"/><use href="#g" x="4" y="27.2"/><use href="#g" x="4" y="39.6"/><use href="#g" x="4" y="52.1"/><use href="#g" x="4" y="64.6"/><use href="#g" x="4" y="77"/><use href="#g" x="4" y="89.5"/><use href="#g" x="4" y="101.9"/><use href="#g" x="4" y="114.4"/><use href="#g" x="4" y="126.9"/><use href="#g" x="4" y="139.3"/><use href="#g" x="4" y="214.1"/><use href="#g" x="4" y="226.5"/>
<text x="13" y="21.2">id</text><text x="13" y="33.7">partner_id</text><text x="13" y="46.1">dest_address_id</text><text x="13" y="58.6">currency_id</text><text x="13" y="71.1">fiscal_position_id</text><text x="13" y="83.5">payment_term_id</text><text x="13" y="96">incoterm_id</text><text x="13" y="108.4">user_id</text><text x="13" y="120.9">company_id</text><text x="13" y="133.4">create_uid</text><text x="13" y="145.8">write_uid</text><text x="13" y="158.3">priority</text><text x="13" y="170.7">state</text><text x="13" y="183.2">date_order</text><text x="13" y="195.7">date_approve</text><text x="13" y="208.1">date_planned</text><text x="13" y="220.6">picking_type_id</text><text x="13" y="233">group_id</text>
<line x1="0" y1="236.78" x2="118" y2="236.78" class="l"/><text x="2" y="243">...</text>
<line x1="0" y1="246.78" x2="118" y2="246.78" class="l"/><line x1="44" y1="246.78" x2="44" y2="256.78" class="l"/><line x1="77" y1="246.78" x2="77" y2="256.78" class="l"/>
<text x="2" y="254.4">&lt; 12</text><text x="116" y="254.4" text-anchor="end">3 &gt;</text>
</g>

<text x="7" y="1339" style="font-size:7px">Generated by SchemaSpy</text>
</svg>
</body></html>
